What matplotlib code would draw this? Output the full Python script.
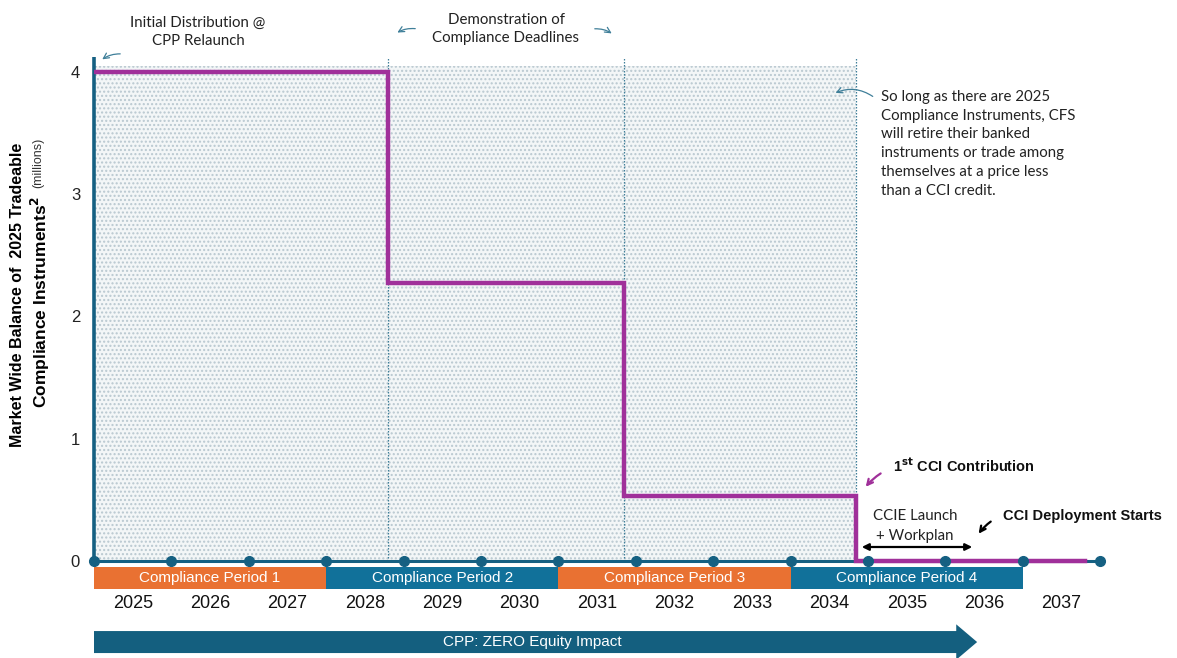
import matplotlib
matplotlib.use("Agg")
import matplotlib.pyplot as plt
from matplotlib.patches import FancyArrow
import numpy as np

# ---- data ----
years = [2025, 2026, 2027, 2028, 2029, 2030, 2031, 2032, 2033, 2034, 2035, 2036, 2037]
step_x = [0.0, 3.8, 6.85, 9.85, 12.8]
step_y = [4.0, 2.27, 0.53, 0.0, 0.0]
deadlines = [3.8, 6.85, 9.85]
periods = ["Compliance Period 1", "Compliance Period 2", "Compliance Period 3", "Compliance Period 4"]
period_start = [0, 3, 6, 9]
period_end = [3, 6, 9, 12]
yticks = [0, 1, 2, 3, 4]

BLUE = "#156082"
BAR_BLUE = "#11719A"
ORANGE = "#E97132"
PURPLE = "#A0309A"
TEAL = "#3F7F99"

W, H = 1177, 658
fig = plt.figure(figsize=(W / 100, H / 100), dpi=100)
px_x = 77.4
px_y = 122.25
x0, y0 = 94, 561
ax = fig.add_axes([x0 / W, 0, 1 - x0 / W, 1])
ax.set_xlim(0, (W - x0) / px_x)
ax.set_ylim(-(H - y0) / px_y, y0 / px_y)
for s in ax.spines.values():
    s.set_visible(False)
ax.set_xticks([])
ax.set_yticks(yticks)
ax.set_yticklabels([str(v) for v in yticks], fontsize=12, family="Liberation Sans", color="#222222")
ax.tick_params(axis="y", length=0, pad=10)

ANN = "Lato"

# shaded region
ax.fill_between([0, deadlines[-1]], 0, 4.05, facecolor="#F3F6F7", edgecolor="#B9C8D0",
                hatch="....", linewidth=0, zorder=1)

# deadline dotted lines
for d in deadlines:
    ax.plot([d, d], [0, 4.12], color=TEAL, lw=0.9, ls=(0, (1.2, 1.2)), zorder=2)

# left blue axis line
ax.plot([0, 0], [0, 4.12], color=BLUE, lw=2.6, zorder=3, clip_on=False, solid_capstyle="butt")
# horizontal baseline
n_years = len(years)
bounds = np.arange(n_years + 1)
ax.plot([0, n_years], [0, 0], color=BLUE, lw=2.2, zorder=3, clip_on=False)

# purple step
ax.step(step_x, step_y, where="post", color=PURPLE, lw=3.2, zorder=4, solid_joinstyle="miter")

# dots
ax.plot(bounds, np.zeros_like(bounds), "o", color=BLUE, ms=7, zorder=5, clip_on=False)

# compliance period bars
for i, (name, a, b) in enumerate(zip(periods, period_start, period_end)):
    col = ORANGE if i % 2 == 0 else BAR_BLUE
    ax.bar((a + b) / 2, -0.18, bottom=-0.049, width=b - a, color=col, edgecolor="none", zorder=3)
    ax.text((a + b) / 2, -0.139, name, ha="center", va="center", color="white",
            fontsize=11, family="Liberation Sans", zorder=4)

# year labels
for i, yr in enumerate(years):
    ax.text(i + 0.5, -0.344, str(yr), ha="center", va="center", fontsize=13,
            family="Liberation Sans", color="#111111")

# big arrow
ax.add_patch(FancyArrow(0, -0.663, 11.41, 0, width=0.18, head_width=0.29,
                        head_length=0.27, length_includes_head=True,
                        color="#145F7F", lw=0, zorder=3, clip_on=False))
ax.text(5.66, -0.663, "CPP: ZERO Equity Impact", ha="center", va="center", color="white",
        fontsize=11, family="Liberation Sans", zorder=4)

# axis label
fig.text(18 / W, 1 - 295 / H, "Market Wide Balance of  2025 Tradeable", rotation=90,
         ha="center", va="center", fontsize=11.5, fontweight="bold", family="Liberation Sans")
fig.text(40 / W, 1 - 302 / H, r"Compliance Instruments$^{\mathbf{2}}$", rotation=90,
         ha="center", va="center", fontsize=12.5, fontweight="bold", family="Liberation Sans")
fig.text(38 / W, 1 - 163 / H, "(millions)", rotation=90,
         ha="center", va="center", fontsize=9, family="Liberation Sans", color="#333333")

def px(xp, yp):
    return ((xp - x0) / px_x, (y0 - yp) / px_y)

# annotations
ax.text(*px(198, 32), "Initial Distribution @\nCPP Relaunch", ha="center", va="center",
        fontsize=10.8, family=ANN, linespacing=1.45, color="#222222")
ax.annotate("", xy=px(100, 61), xytext=px(123, 54),
            arrowprops=dict(arrowstyle="->", color=TEAL, lw=0.9, connectionstyle="arc3,rad=0.2"))

ax.text(*px(506, 29), "Demonstration of\nCompliance Deadlines", ha="center", va="center",
        fontsize=10.8, family=ANN, linespacing=1.35, color="#222222")
ax.annotate("", xy=px(395, 34), xytext=px(418, 29),
            arrowprops=dict(arrowstyle="->", color=TEAL, lw=0.9, connectionstyle="arc3,rad=0.2"))
ax.annotate("", xy=px(614, 35), xytext=px(592, 29),
            arrowprops=dict(arrowstyle="->", color=TEAL, lw=0.9, connectionstyle="arc3,rad=-0.2"))

ax.text(*px(881, 90), "So long as there are 2025\nCompliance Instruments, CFS\nwill retire their banked\n"
        "instruments or trade among\nthemselves at a price less\nthan a CCI credit.",
        ha="left", va="top", fontsize=10.8, family=ANN, linespacing=1.43, color="#222222")
ax.annotate("", xy=px(833, 94), xytext=px(875, 98),
            arrowprops=dict(arrowstyle="->", color=TEAL, lw=0.9, connectionstyle="arc3,rad=0.3"))

ax.text(*px(893, 466), r"1$^{\mathbf{st}}$ CCI Contribution", ha="left", va="center",
        fontsize=10.5, fontweight="bold", family="Liberation Sans", color="#111111")
ax.annotate("", xy=px(864, 489), xytext=px(883, 472),
            arrowprops=dict(arrowstyle="->", color=PURPLE, lw=1.6, connectionstyle="arc3,rad=0.1"))

ax.text(*px(915, 526), "CCIE Launch\n+ Workplan", ha="center", va="center",
        fontsize=10.8, family=ANN, linespacing=1.5, color="#222222")
ax.annotate("", xy=px(975, 547), xytext=px(859, 547),
            arrowprops=dict(arrowstyle="<|-|>", color="black", lw=1.6, mutation_scale=10))

ax.text(*px(1003, 516), "CCI Deployment Starts", ha="left", va="center",
        fontsize=10.5, fontweight="bold", family="Liberation Sans", color="#111111")
ax.annotate("", xy=px(977, 536), xytext=px(993, 520),
            arrowprops=dict(arrowstyle="->", color="black", lw=1.6, connectionstyle="arc3,rad=0.1"))

fig.savefig("out.png", dpi=100, facecolor="white")
